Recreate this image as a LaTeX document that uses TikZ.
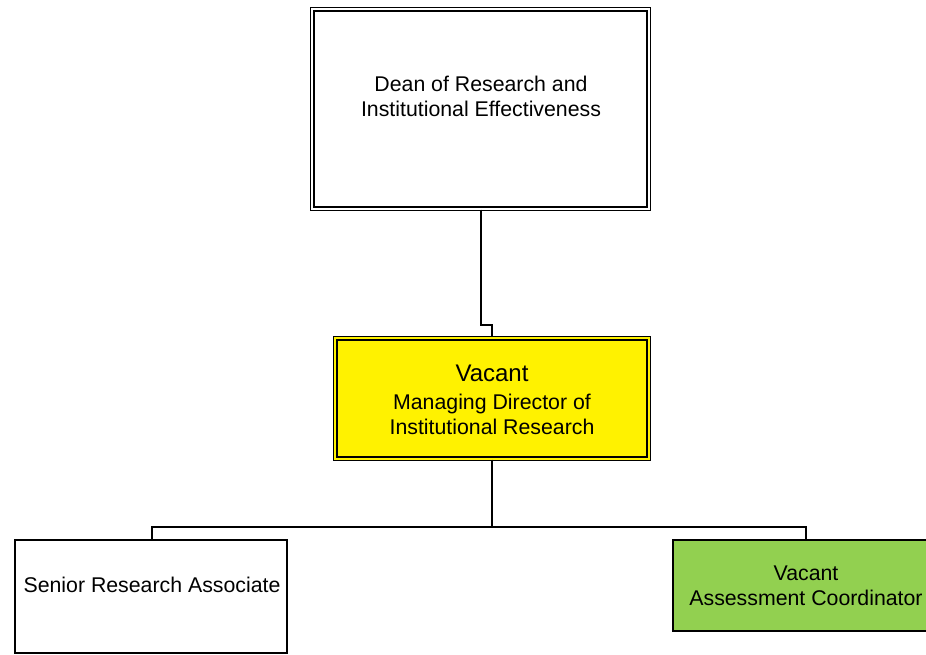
\documentclass[tikz,border=0pt]{standalone}
\usepackage{fontspec}
\setmainfont{Liberation Sans}
\begin{document}
\begin{tikzpicture}[x=1pt,y=-1pt,
  conn/.style={line width=1.6pt},
  dblbox/.style={draw, line width=1.5pt, double, double distance=2.2pt, inner sep=0pt},
  sglbox/.style={draw, line width=1.6pt, inner sep=0pt},
  txt/.style={align=center, font=\fontsize{21.3}{25}\selectfont, inner sep=0pt}
]
\useasboundingbox (0,0) rectangle (926,655);
\clip (0,0) rectangle (926,655);
\definecolor{vgreen}{RGB}{146,208,80}
% boxes
\node[dblbox, minimum width=336.6pt, minimum height=199.6pt] (dean) at (480.5,109) {};
\node[dblbox, double=yellow, fill=yellow, minimum width=313.6pt, minimum height=120.6pt] (mdir) at (492,398.5) {};
\node[sglbox, minimum width=272pt, minimum height=113pt] (sra) at (151,596.5) {};
\node[sglbox, fill=vgreen, minimum width=266pt, minimum height=91pt] (ac) at (806,585.5) {};
% texts
\node[txt] (deant) at (481,96.5) {Dean of Research and\\Institutional Effectiveness};
\node[txt, font=\fontsize{24}{25}\selectfont] (mdirt1) at (492,373) {Vacant};
\node[txt] (mdirt2) at (492,414) {Managing Director of\\Institutional Research};
\node[txt] (srat) at (152,585) {Senior Research Associate};
\node[txt] (act) at (806,586) {Vacant\\Assessment Coordinator};
% connectors
\coordinate (j1) at (481,325);
\coordinate (j2) at (492,325);
\coordinate (bus) at (492,527);
\coordinate (busl) at (152,527);
\coordinate (busr) at (806,527);
\draw[conn] (dean.south -| j1) -- (j1) -- (j2) -- (mdir.north -| j2);
\draw[conn] (mdir.south -| bus) -- (bus);
\draw[conn] (busl |- sra.north) -- (busl) -- (busr) -- (ac.north -| busr);
\end{tikzpicture}
\end{document}
